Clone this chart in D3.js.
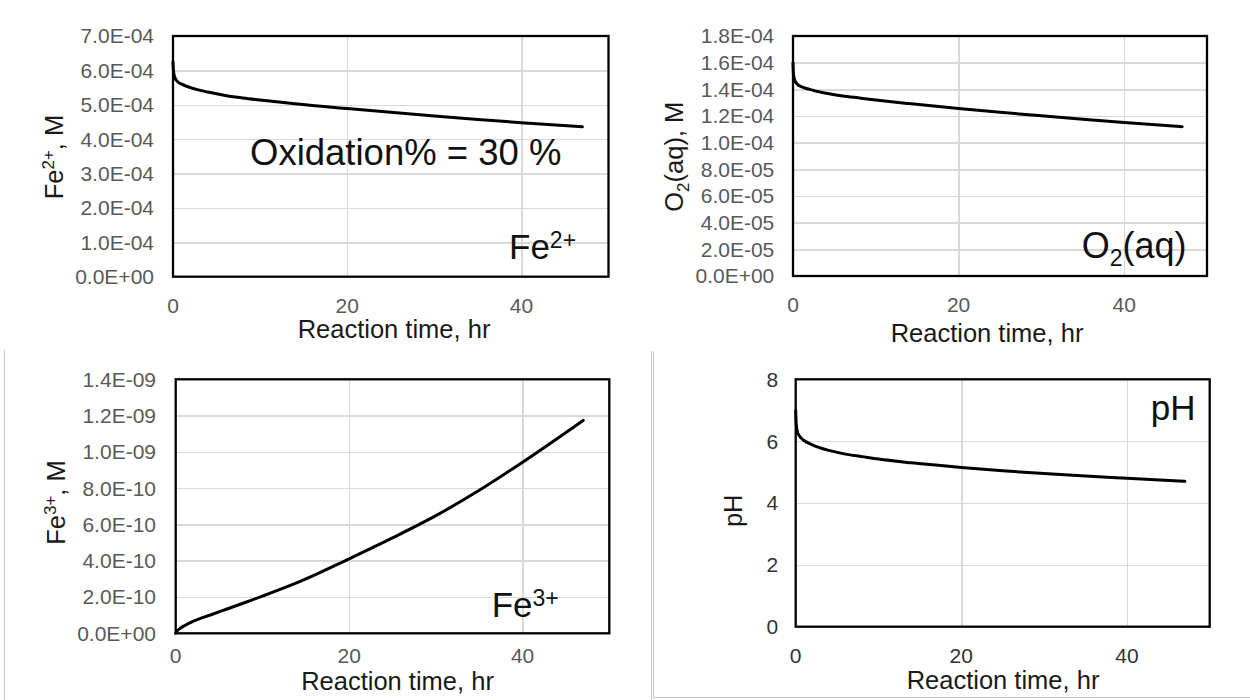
<!doctype html>
<html>
<head>
<meta charset="utf-8">
<title>Fe oxidation kinetics</title>
<script src="https://cdn.jsdelivr.net/npm/d3@7"></script>
<style>
  body { margin: 0; background: #fff; }
  svg { display: block; font-family: "Liberation Sans", Arial, sans-serif; }
  .grid line { stroke: #d9d9d9; stroke-width: 1.5; shape-rendering: crispEdges; }
  .grid path { display: none; }
  .tick-label { font-size: 21px; }
  .axis-title { font-size: 25.5px; fill: #1a1a1a; }
  .note { fill: #111; }
</style>
</head>
<body>
<script>
"use strict";

// reaction time, hr
const hours = [0, 0.05, 0.2, 0.5, 1, 2, 4, 6, 8, 10, 14, 20, 25, 30, 35, 40, 47];

// concentrations
const fe2 = [6.25e-4, 6.0e-4, 5.8e-4, 5.68e-4, 5.6e-4, 5.5e-4, 5.37e-4, 5.27e-4, 5.2e-4,
             5.14e-4, 5.03e-4, 4.89e-4, 4.78e-4, 4.675e-4, 4.575e-4, 4.48e-4, 4.36e-4];
const o2 = [1.60e-4, 1.52e-4, 1.47e-4, 1.44e-4, 1.42e-4, 1.40e-4, 1.37e-4, 1.35e-4, 1.335e-4,
            1.32e-4, 1.293e-4, 1.256e-4, 1.228e-4, 1.201e-4, 1.176e-4, 1.152e-4, 1.12e-4];
const fe3 = [0, 0.07e-10, 0.15e-10, 0.27e-10, 0.42e-10, 0.66e-10, 1.01e-10, 1.354e-10, 1.698e-10,
             2.048e-10, 2.788e-10, 4.108e-10, 5.258e-10, 6.483e-10, 7.883e-10, 9.433e-10, 11.74e-10];
const ph = [7.0, 6.6, 6.3, 6.15, 6.02, 5.88, 5.7, 5.58, 5.5, 5.42, 5.3, 5.15, 5.04, 4.95, 4.87, 4.8, 4.7];

// axis ticks
const xTicks = [0, 20, 40];
const fe2Ticks = [0, 1e-4, 2e-4, 3e-4, 4e-4, 5e-4, 6e-4, 7e-4];
const o2Ticks = [0, 2e-5, 4e-5, 6e-5, 8e-5, 1e-4, 1.2e-4, 1.4e-4, 1.6e-4, 1.8e-4];
const fe3Ticks = [0, 2e-10, 4e-10, 6e-10, 8e-10, 1e-9, 1.2e-9, 1.4e-9];
const phTicks = [0, 2, 4, 6, 8];

const xTitle = "Reaction time, hr";

// Excel style scientific labels: 7.0E-04
function sci(v) {
    if (v === 0) return "0.0E+00";
    const [m, e] = v.toExponential(1).split("e");
    const n = +e;
    return m + "E" + (n < 0 ? "-" : "+") + String(Math.abs(n)).padStart(2, "0");
}

const svg = d3.select("body").append("svg")
    .attr("width", 1250)
    .attr("height", 700);

// thin chart-area borders of the lower two charts
const border = svg.append("g")
    .attr("fill", "none")
    .attr("stroke", "#c6c6c6")
    .attr("stroke-width", 1);
border.append("path").attr("d", "M4.5,350V700");
border.append("path").attr("d", "M651.5,351V700");
border.append("path").attr("d", "M653.5,351.5V697.5H1250");

// write text made of plain / sup / sub pieces
function rich(text, parts, subSize, up, down) {
    parts.forEach((p, i) => {
        const t = text.append("tspan").text(p.t);
        const prev = parts[i - 1];
        if (p.sup) t.style("font-size", subSize + "px").attr("dy", -up);
        else if (p.sub) t.style("font-size", subSize + "px").attr("dy", down);
        else if (prev && prev.sup) t.attr("dy", up);
        else if (prev && prev.sub) t.attr("dy", -down);
    });
}

const panels = [
    {
        values: fe2, yTicks: fe2Ticks, fmt: sci, tickColor: "#595959",
        x0: 173, x1: 608.5, y0: 276.7, y1: 36,
        tickRight: 154, xTickBase: 312.5, xTitleX: 394, xTitleBase: 338.3,
        yTitle: [{t: "Fe"}, {t: "2+", sup: true}, {t: ", M"}], yTitleX: 62.7, yTitleY: 157,
        notes: [
            {parts: [{t: "Oxidation% = 30 %"}], x: 250, y: 165, size: 36.5},
            {parts: [{t: "Fe"}, {t: "2+", sup: true}], x: 509, y: 259.3}
        ]
    },
    {
        values: o2, yTicks: o2Ticks, fmt: sci, tickColor: "#595959",
        x0: 793, x1: 1207, y0: 276, y1: 36,
        tickRight: 774.3, xTickBase: 311.7, xTitleX: 987, xTitleBase: 341.7,
        yTitle: [{t: "O"}, {t: "2", sub: true}, {t: "(aq), M"}], yTitleX: 683, yTitleY: 156.7,
        notes: [
            {parts: [{t: "O"}, {t: "2", sub: true}, {t: "(aq)"}], x: 1081.7, y: 258.3, size: 36}
        ]
    },
    {
        values: fe3, yTicks: fe3Ticks, fmt: sci, tickColor: "#595959",
        x0: 175.7, x1: 609.3, y0: 633.3, y1: 379.3,
        tickRight: 156, xTickBase: 662.5, xTitleX: 397.5, xTitleBase: 690,
        yTitle: [{t: "Fe"}, {t: "3+", sup: true}, {t: ", M"}], yTitleX: 65, yTitleY: 502.5,
        notes: [
            {parts: [{t: "Fe"}, {t: "3+", sup: true}], x: 491.7, y: 616.7}
        ]
    },
    {
        values: ph, yTicks: phTicks, fmt: d3.format("d"), tickColor: "#333",
        x0: 795.7, x1: 1209.7, y0: 626.7, y1: 379.3,
        tickRight: 778.3, xTickBase: 662.5, xTitleX: 1003, xTitleBase: 688.5,
        yTitle: [{t: "pH"}], yTitleX: 741.7, yTitleY: 510.8,
        notes: [
            {parts: [{t: "pH"}], x: 1150.7, y: 420}
        ]
    }
];

panels.forEach(p => {
    const g = svg.append("g");
    const yMax = p.yTicks[p.yTicks.length - 1];

    const x = d3.scaleLinear().domain([0, 50]).range([p.x0, p.x1]);
    const y = d3.scaleLinear().domain([0, yMax]).range([p.y0, p.y1]);

    // gridlines
    g.append("g")
        .attr("class", "grid")
        .attr("transform", `translate(${p.x0},0)`)
        .call(d3.axisLeft(y).tickValues(p.yTicks.slice(1, -1)).tickSize(-(p.x1 - p.x0)).tickFormat(""));
    g.append("g")
        .attr("class", "grid")
        .attr("transform", `translate(0,${p.y0})`)
        .call(d3.axisBottom(x).tickValues(xTicks.slice(1)).tickSize(-(p.y0 - p.y1)).tickFormat(""));

    // curve
    const line = d3.line()
        .x((d, i) => x(hours[i]))
        .y(d => y(d))
        .curve(d3.curveMonotoneX);

    g.append("path")
        .datum(p.values)
        .attr("fill", "none")
        .attr("stroke", "#000")
        .attr("stroke-width", 3)
        .attr("stroke-linejoin", "round")
        .attr("stroke-linecap", "round")
        .attr("d", line);

    // plot frame
    g.append("rect")
        .attr("x", x(0))
        .attr("y", y(yMax))
        .attr("width", x(50) - x(0))
        .attr("height", y(0) - y(yMax))
        .attr("fill", "none")
        .attr("stroke", "#000")
        .attr("stroke-width", 2.3);

    // tick labels
    g.append("g")
        .selectAll("text")
        .data(p.yTicks)
        .join("text")
        .attr("class", "tick-label")
        .attr("x", p.tickRight)
        .attr("y", d => y(d))
        .attr("dy", "0.35em")
        .attr("text-anchor", "end")
        .attr("fill", p.tickColor)
        .text(p.fmt);

    g.append("g")
        .selectAll("text")
        .data(xTicks)
        .join("text")
        .attr("class", "tick-label")
        .attr("x", d => x(d))
        .attr("y", p.xTickBase)
        .attr("text-anchor", "middle")
        .attr("fill", p.tickColor)
        .text(d => d);

    // axis titles
    g.append("text")
        .attr("class", "axis-title")
        .attr("x", p.xTitleX)
        .attr("y", p.xTitleBase)
        .attr("text-anchor", "middle")
        .text(xTitle);

    const yt = g.append("text")
        .attr("class", "axis-title")
        .attr("text-anchor", "middle")
        .attr("transform", `translate(${p.yTitleX},${p.yTitleY}) rotate(-90)`);
    rich(yt, p.yTitle, 17, 9, 6);

    // in-plot annotations
    p.notes.forEach(n => {
        const t = g.append("text")
            .attr("class", "note")
            .style("font-size", (n.size || 35) + "px")
            .attr("x", n.x)
            .attr("y", n.y);
        rich(t, n.parts, 23, 11, 8);
    });
});
</script>
</body>
</html>
